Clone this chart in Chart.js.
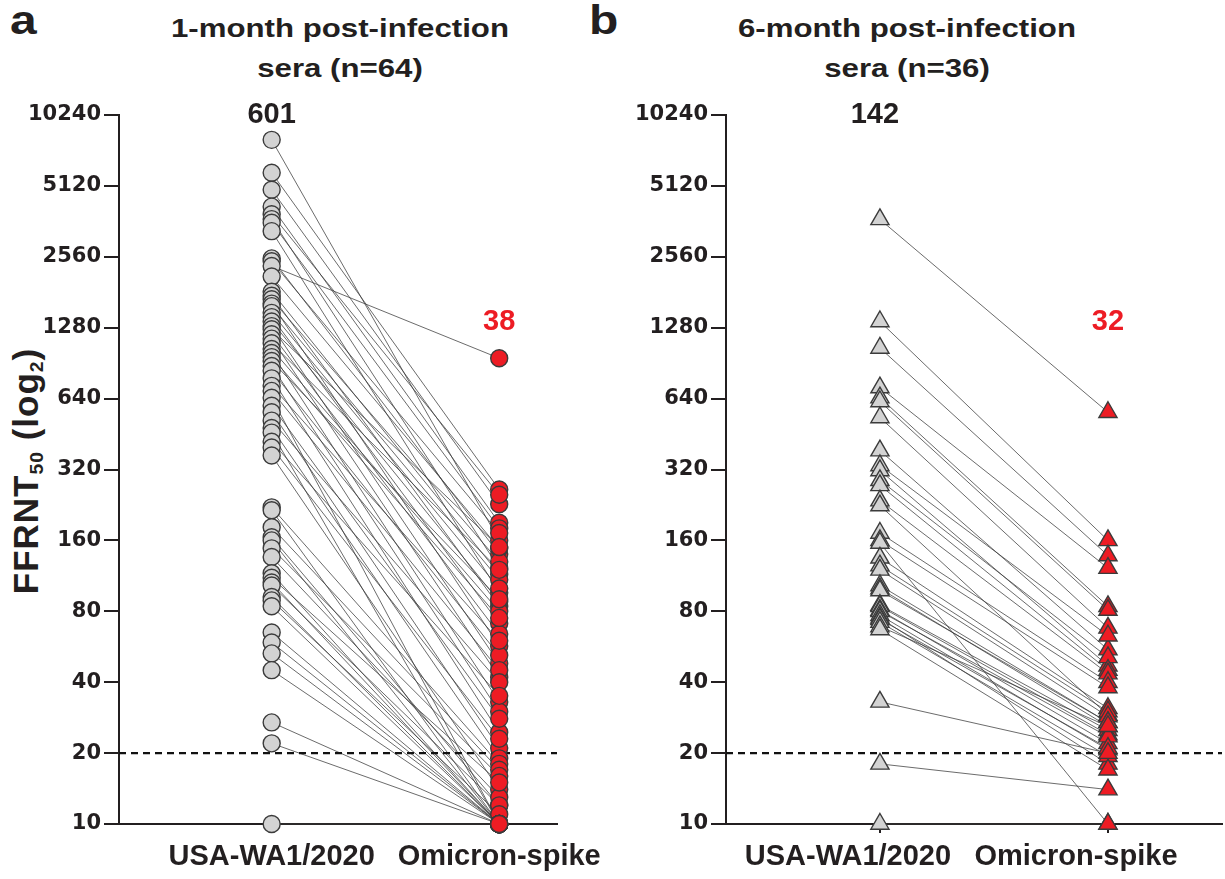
<!DOCTYPE html>
<html>
<head>
<meta charset="utf-8">
<script src="https://cdn.jsdelivr.net/npm/chart.js@4.4.1/dist/chart.umd.min.js"></script>
<style>
  body { margin: 0; background: #fff; width: 1225px; height: 879px; position: relative; overflow: hidden;
         font-family: "Liberation Sans", Arial, sans-serif; color: #231f20; }
  canvas { position: absolute; top: 0; }
  #chartA { left: 0; }
  #chartB { left: 580px; }
  .letter { position: absolute; top: 0; font-weight: bold; font-size: 40px; line-height: 40px;
            transform: scaleX(1.2); transform-origin: left top; }
  .title { position: absolute; top: 8px; width: 400px; text-align: center; font-weight: bold;
           font-size: 26px; line-height: 40px; transform: scaleX(1.2); }
  .ytitle { position: absolute; left: 27px; top: 471px; white-space: nowrap; font-weight: bold;
            font-size: 35px; line-height: 1; letter-spacing: 1px; transform: translate(-50%, -50%) rotate(-90deg); }
  .ytitle sub { font-size: 0.55em; vertical-align: -0.25em; }
</style>
</head>
<body>
<div class="letter" style="left:10px">a</div>
<div class="letter" style="left:589px">b</div>
<div class="title" style="left:140px">1-month post-infection<br>sera (n=64)</div>
<div class="title" style="left:707px">6-month post-infection<br>sera (n=36)</div>
<div class="ytitle">FFRNT<sub>50</sub> (log<sub>2</sub>)</div>
<canvas id="chartA" width="650" height="879"></canvas>
<canvas id="chartB" width="700" height="879"></canvas>
<script>
const categories = ['USA-WA1/2020', 'Omicron-spike'];
const yTicks = [10, 20, 40, 80, 160, 320, 640, 1280, 2560, 5120, 10240];
const detectionLimit = 20;

// 1-month sera, paired by donor (same index)
const wa1Month1 = [8030, 5820, 4930, 4180, 3880, 3700, 3570, 3290, 2520, 2450, 2340, 2110, 1820, 1750, 1690, 1620,
  1580, 1480, 1420, 1360, 1300, 1260, 1200, 1150, 1100, 1040, 1000, 960, 925, 880, 840, 780,
  725, 690, 645, 597, 560, 516, 480, 459, 420, 397, 367, 221, 215, 182, 165, 160,
  148, 136, 116, 111, 106, 103, 92, 89, 84, 65, 59, 53, 45, 27, 22, 10];
const omicronMonth1 = [160, 263, 228, 190, 250, 122, 180, 96, 140, 172, 950, 148, 115, 84, 130, 57,
  109, 100, 71, 88, 48, 150, 64, 42, 120, 80, 33, 75, 90, 30, 52, 24.5,
  60, 45, 10, 28, 21, 40, 19, 10, 35, 23, 14, 18, 10, 17, 12, 10,
  16, 13, 10, 15, 10, 12, 10, 11, 10, 10, 10, 10, 10, 10, 10, 10];

// 6-month sera, paired by donor (same index)
const wa1Month6 = [3690, 1360, 1050, 713, 646, 622, 532, 385, 333, 317, 288, 274, 236, 225, 172, 160,
  156, 135, 125, 120, 103, 100, 98, 85, 84, 81, 80, 77, 75, 74, 72, 69, 67, 33, 18, 10];
const omicronMonth6 = [560, 160, 138, 122, 84, 81, 68, 55, 63, 47, 51, 45, 43.5, 29, 40, 38,
  10, 31, 30, 28.6, 27, 26, 27, 25, 24, 22, 23.5, 20.7, 18, 21, 19.4, 26, 17, 20, 14, 10];

const gmtMonth1 = [601, 38];
const gmtMonth6 = [142, 32];

const ink = '#231f20';
const red = '#ed1c24';

const gmtPlugin = {
  id: 'gmtLabels',
  afterDatasetsDraw(chart, args, opts) {
    const { ctx, scales: { x, y } } = chart;
    ctx.save();
    ctx.font = 'bold 29px "Liberation Sans", Arial, sans-serif';
    ctx.textAlign = 'center';
    ctx.textBaseline = 'middle';
    opts.values.forEach((v, i) => {
      ctx.fillStyle = i === 0 ? ink : red;
      ctx.fillText(String(v), x.getPixelForValue(i) + opts.shift[i], y.getPixelForValue(opts.levels[i]) - (i === 0 ? 0 : 6));
    });
    ctx.restore();
  }
};

function makePanel(id, wa1, omicron, gmt, cfg) {
  const pairLines = [];
  wa1.forEach((v, i) => {
    pairLines.push({ x: 0, y: v }, { x: 1, y: omicron[i] }, { x: 0.5, y: null });
  });

  new Chart(document.getElementById(id), {
    type: 'scatter',
    data: {
      datasets: [
        {
          data: wa1.map(v => ({ x: 0, y: v })),
          pointStyle: cfg.marker, pointRadius: cfg.radius, pointHoverRadius: cfg.radius,
          backgroundColor: '#d3d3d3', borderColor: '#3b3b3b', borderWidth: 1.4,
          order: 0, clip: false
        },
        {
          data: omicron.map(v => ({ x: 1, y: v })),
          pointStyle: cfg.marker, pointRadius: cfg.radius, pointHoverRadius: cfg.radius,
          backgroundColor: red, borderColor: '#3b3b3b', borderWidth: 1.4,
          order: 0, clip: false
        },
        {
          data: [{ x: cfg.xMin, y: detectionLimit }, { x: cfg.xMax, y: detectionLimit }],
          showLine: true, pointRadius: 0, borderColor: '#111', borderWidth: 2.2,
          borderDash: [7, 5], order: 1, clip: false
        },
        {
          data: pairLines,
          showLine: true, spanGaps: false, pointRadius: 0,
          borderColor: 'rgba(60,60,60,0.85)', borderWidth: 0.9,
          order: 2, clip: false
        }
      ]
    },
    options: {
      responsive: false,
      animation: false,
      events: [],
      layout: { padding: { left: 0, top: 115, right: cfg.padRight, bottom: 0 } },
      plugins: {
        legend: { display: false },
        tooltip: { enabled: false },
        gmtLabels: { values: gmt, levels: [10240, 1280], shift: cfg.shift }
      },
      scales: {
        x: {
          type: 'linear', min: cfg.xMin, max: cfg.xMax,
          afterBuildTicks: s => { s.ticks = [{ value: 0 }, { value: 1 }]; },
          afterFit: s => { s.height = 55; },
          ticks: {
            callback: v => categories[v], autoSkip: false, maxRotation: 0, padding: 7, color: ink,
            labelOffset: cfg.labelShift,
            font: { family: '"Liberation Sans", Arial, sans-serif', weight: 'bold', size: 29 }
          },
          grid: { drawOnChartArea: false, tickLength: 9, color: ink, lineWidth: 2 },
          border: { color: ink, width: 2 }
        },
        y: {
          type: 'logarithmic', min: 10, max: 10240,
          afterBuildTicks: s => { s.ticks = yTicks.map(v => ({ value: v })); },
          afterFit: s => { s.width = cfg.axisLeft; },
          ticks: {
            callback: v => String(v), autoSkip: false, padding: 3, color: ink,
            font: { family: 'DejaVu Sans', weight: 'bold', size: 21 }
          },
          grid: { drawOnChartArea: false, tickLength: 15, color: ink, lineWidth: 2 },
          border: { color: ink, width: 2 }
        }
      }
    },
    plugins: [gmtPlugin]
  });
}

makePanel('chartA', wa1Month1, omicronMonth1, gmtMonth1,
  { marker: 'circle', radius: 8.5, xMin: -0.671, xMax: 1.254, axisLeft: 119, padRight: 93, shift: [0, 0], labelShift: 0 });
makePanel('chartB', wa1Month6, omicronMonth6, gmtMonth6,
  { marker: 'triangle', radius: 10.5, xMin: -0.675, xMax: 1.5, axisLeft: 146, padRight: 58, shift: [-5, 0], labelShift: -32 });
</script>
</body>
</html>
